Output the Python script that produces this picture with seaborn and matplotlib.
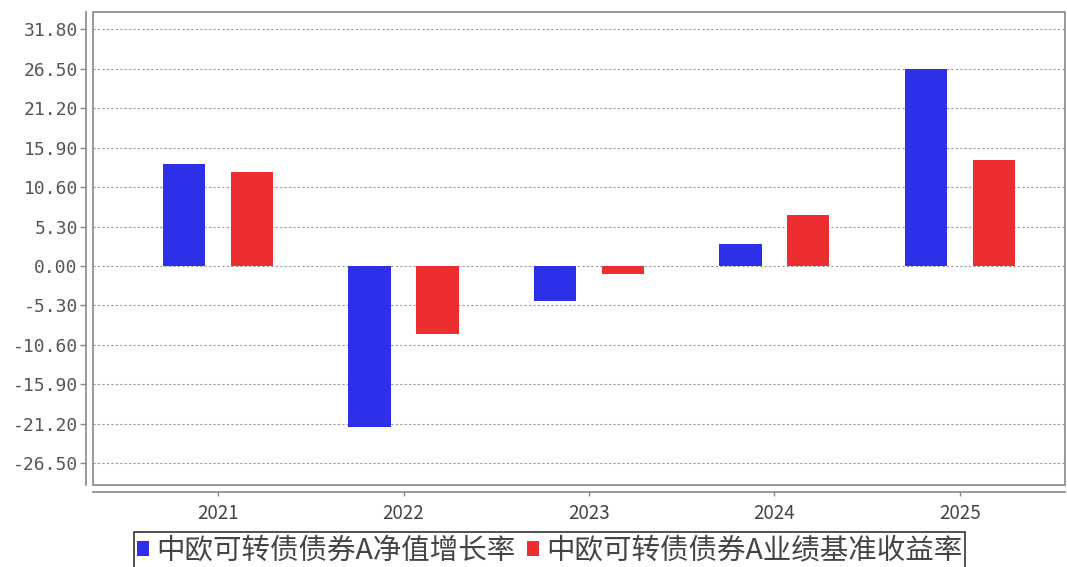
import pandas as pd
import numpy as np
import matplotlib
matplotlib.use('Agg')
import matplotlib.pyplot as plt
import seaborn as sns
from matplotlib.patches import Rectangle

sns.set_theme(style="white")
plt.rcParams['font.family'] = ['Noto Sans CJK SC', 'DejaVu Sans']
plt.rcParams['axes.unicode_minus'] = False

# Data
years = ['2021', '2022', '2023', '2024', '2025']
nav_growth = [13.65, -21.60, -4.75, 2.95, 26.40]
benchmark = [12.60, -9.10, -1.10, 6.85, 14.30]
series_names = ['中欧可转债债券A净值增长率', '中欧可转债债券A业绩基准收益率']
y_ticks = [-26.50, -21.20, -15.90, -10.60, -5.30, 0.00, 5.30, 10.60, 15.90, 21.20, 26.50, 31.80]

colors = ['#2E2FE8', '#EC2E30']

df = pd.DataFrame({
    'year': years * 2,
    'value': nav_growth + benchmark,
    'series': [series_names[0]] * len(years) + [series_names[1]] * len(years),
})

fig = plt.figure(figsize=(10.67, 5.67), dpi=100)
ax = fig.add_axes([0.0872, 0.1446, 0.9108, 0.8342])

sns.barplot(data=df, x='year', y='value', hue='series', palette=colors,
            width=0.733, gap=0.38, ax=ax, saturation=1, edgecolor='none')

ax.set_ylim(-29.4, 34.1)
ax.set_xlim(-0.674, 4.566)
ax.set_yticks(y_ticks)
ax.set_yticklabels([f'{v:.2f}' for v in y_ticks])
ax.set_xlabel('')
ax.set_ylabel('')

# dashed horizontal grid
ax.yaxis.grid(True, linestyle=(0, (2, 2)), color='#999999', linewidth=0.8)
ax.xaxis.grid(False)
ax.set_axisbelow(True)

# offset axis lines, plus a plain frame round the plot area
for side in ['top', 'right']:
    ax.spines[side].set_visible(False)
for side in ['left', 'bottom']:
    ax.spines[side].set_position(('outward', 5))
    ax.spines[side].set_color('#888888')
    ax.spines[side].set_linewidth(1.2)
ax.add_patch(Rectangle((0, 0), 1, 1, transform=ax.transAxes, fill=False,
                       edgecolor='#888888', linewidth=1.2, clip_on=False))

ax.tick_params(axis='y', which='both', left=True, length=4, width=1, color='#888888',
               labelsize=13, labelcolor='#555555', pad=2)
ax.tick_params(axis='x', which='both', bottom=True, length=3, width=1, color='#888888',
               labelsize=13.5, labelcolor='#444444', pad=5)
for lbl in ax.get_yticklabels():
    lbl.set_fontfamily('DejaVu Sans Mono')

handles, labels = ax.get_legend_handles_labels()
ax.get_legend().remove()
leg = fig.legend(handles, labels, loc='upper center', bbox_to_anchor=(0.515, 0.061),
                 ncol=2, fontsize=20.5, frameon=True, fancybox=False, edgecolor='black',
                 handlelength=0.42, handleheight=0.42, handletextpad=0.25,
                 columnspacing=0.4, borderpad=0.12, borderaxespad=0)
leg.get_frame().set_linewidth(1.2)
for t in leg.get_texts():
    t.set_color('#444444')

fig.savefig('out.png', dpi=100)
